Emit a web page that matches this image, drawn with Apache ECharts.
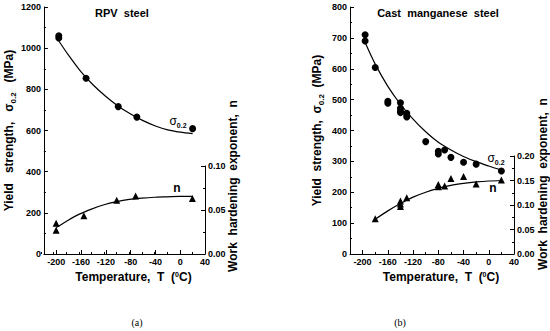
<!DOCTYPE html>
<html>
<head>
<meta charset="utf-8">
<script src="https://cdn.jsdelivr.net/npm/echarts@6/dist/echarts.min.js"></script>
<style>
    html, body { margin: 0; padding: 0; background: #fff; }
    #chart { width: 550px; height: 331px; }
</style>
</head>
<body>
<div id="chart"></div>
<script>
// temperature tick labels shared by both panels
var tempTicks = [-200, -160, -120, -80, -40, 0, 40];

// (a) RPV steel - measured points
var rpvT = [-196, -196, -152, -100, -70, 20];
var rpvSigma = [1060, 1049, 854, 716, 665, 609];
var rpvN = [0.035, 0.027, 0.0435, 0.061, 0.066, 0.063];
// (a) fitted curves
var rpvFitT = [-196, -180, -160, -140, -120, -100, -80, -60, -40, -20, 0, 20];
var rpvFitSigma = [1035, 965, 885, 820, 765, 718, 680, 648, 622, 603, 592, 585];
var rpvFitN = [0.030, 0.037, 0.045, 0.051, 0.056, 0.0595, 0.062, 0.0635, 0.0645, 0.065, 0.0655, 0.0655];

// (b) cast manganese steel - measured points
var mnSigmaT = [-196, -196, -180, -160, -160, -140, -140, -140, -140, -130, -130, -130, -100, -80, -80, -70, -60, -40, -20, 20];
var mnSigma = [710, 690, 604, 495, 488, 490, 472, 463, 458, 456, 450, 444, 364, 333, 324, 337, 313, 297, 291, 269];
var mnNT = [-180, -140, -140, -140, -130, -80, -80, -70, -60, -40, -20, 20];
var mnN = [0.072, 0.108, 0.102, 0.097, 0.115, 0.142, 0.137, 0.139, 0.154, 0.158, 0.143, 0.151];
// (b) fitted curves
var mnFitSigmaT = [-196, -180, -160, -140, -120, -100, -80, -60, -40, -20, 0, 20];
var mnFitSigma = [685, 615, 543, 485, 437, 396, 362, 337, 316, 299, 285, 272];
var mnFitNT = [-180, -160, -140, -120, -100, -80, -60, -40, -20, 0, 20];
var mnFitN = [0.071, 0.088, 0.103, 0.116, 0.126, 0.134, 0.140, 0.144, 0.147, 0.149, 0.150];

var FONT = '"Liberation Sans", Arial, sans-serif';
var labelStyle = {color: '#000', fontFamily: FONT, fontWeight: 'bold', fontSize: 9};
var lineStyle = {color: '#000', width: 1};

function pairs(xs, ys) {
    var out = [];
    for (var i = 0; i < xs.length; i++) {
        out.push([xs[i], ys[i]]);
    }
    return out;
}

function plain(v) { return String(v); }
function fixed2(v) { return v.toFixed(2); }

// main temperature axis (major ticks + labels)
function tempAxis(gridIndex) {
    return {
        type: 'value', gridIndex: gridIndex, min: -220, max: 40,
        axisLine: {onZero: false, lineStyle: lineStyle},
        axisTick: {inside: true, length: 4, lineStyle: lineStyle, customValues: tempTicks},
        axisLabel: Object.assign({}, labelStyle, {margin: 3, customValues: tempTicks, formatter: plain}),
        splitLine: {show: false},
        name: 'Temperature,  T  ({sup|0}C)',
        nameLocation: 'middle',
        nameGap: 15,
        nameTextStyle: {
            color: '#000', fontFamily: FONT, fontWeight: 'bold', fontSize: 12,
            padding: [0, 0, 0, 18],
            rich: {sup: {fontSize: 7, fontWeight: 'bold', fontFamily: FONT, verticalAlign: 'top', lineHeight: 7}}
        }
    };
}

// hidden temperature axis of the n-grid, draws the minor ticks every 20
function minorTempAxis(gridIndex) {
    return {
        type: 'value', gridIndex: gridIndex, min: -220, max: 40, interval: 20,
        axisLine: {show: false, onZero: false},
        axisTick: {inside: true, length: 2, lineStyle: lineStyle},
        axisLabel: {show: false},
        splitLine: {show: false}
    };
}

function valueAxis(gridIndex, pos, max, interval, fmt) {
    return {
        type: 'value', gridIndex: gridIndex, position: pos, min: 0, max: max, interval: interval,
        axisLine: {show: true, onZero: false, lineStyle: lineStyle},
        axisTick: {show: true, inside: true, length: 4, lineStyle: lineStyle},
        minorTick: {show: true, splitNumber: 2, length: 2, lineStyle: lineStyle},
        axisLabel: Object.assign({}, labelStyle, {margin: 3, formatter: fmt}),
        splitLine: {show: false}
    };
}

var yieldName = {
    nameLocation: 'middle',
    nameGap: 25,
    nameTextStyle: {
        color: '#000', fontFamily: FONT, fontWeight: 'bold', fontSize: 12, lineHeight: 16,
        rich: {sub: {fontSize: 8, fontWeight: 'bold', fontFamily: FONT, verticalAlign: 'bottom', lineHeight: 9}}
    }
};

var yA = valueAxis(0, 'left', 1200, 200, plain);
Object.assign(yA, yieldName, {name: 'Yield   strength,   \u03c3{sub|0.2}   (MPa)'});
var yB = valueAxis(2, 'left', 800, 100, plain);
Object.assign(yB, yieldName, {name: 'Yield  strength,  \u03c3{sub|0.2}  (MPa)'});

function scatter(x, y, symbol, data) {
    return {
        type: 'scatter', xAxisIndex: x, yAxisIndex: y, symbol: symbol, symbolSize: 7,
        itemStyle: {color: '#000', opacity: 1}, data: data, silent: true
    };
}

function fit(x, y, data) {
    return {
        type: 'line', xAxisIndex: x, yAxisIndex: y, data: data, smooth: 0.3,
        showSymbol: false, lineStyle: {color: '#000', width: 1.2}, silent: true
    };
}

function txt(x, y, text, size, extra) {
    extra = extra || {};
    return {
        type: 'text', x: x, y: y, rotation: extra.rot || 0, silent: true,
        style: {
            text: text, fill: '#000',
            font: (extra.weight || 'bold') + ' ' + size + 'px ' + (extra.family || FONT),
            textAlign: 'center', textVerticalAlign: 'middle', align: 'center', verticalAlign: 'middle',
            rich: extra.rich
        }
    };
}

var subRich = {
    s: {fontSize: 12, fontFamily: FONT, fill: '#000', lineHeight: 16},
    sub: {fontSize: 7, fontWeight: 'bold', fontFamily: FONT, fill: '#000', verticalAlign: 'bottom', lineHeight: 9}
};

var chart = echarts.init(document.getElementById('chart'), null, {renderer: 'svg'});
chart.setOption({
    animation: false,
    backgroundColor: '#fff',
    grid: [
        {left: 41, top: 7, width: 164, height: 247},
        {left: 41, top: 166, width: 164, height: 88},
        {left: 350, top: 7, width: 164, height: 247},
        {left: 350, top: 156, width: 164, height: 98}
    ],
    xAxis: [tempAxis(0), minorTempAxis(1), tempAxis(2), minorTempAxis(3)],
    yAxis: [
        yA,
        valueAxis(1, 'right', 0.1, 0.05, fixed2),
        yB,
        valueAxis(3, 'right', 0.2, 0.05, fixed2)
    ],
    series: [
        fit(0, 0, pairs(rpvFitT, rpvFitSigma)),
        scatter(0, 0, 'circle', pairs(rpvT, rpvSigma)),
        fit(1, 1, pairs(rpvFitT, rpvFitN)),
        scatter(1, 1, 'triangle', pairs(rpvT, rpvN)),
        fit(2, 2, pairs(mnFitSigmaT, mnFitSigma)),
        scatter(2, 2, 'circle', pairs(mnSigmaT, mnSigma)),
        fit(3, 3, pairs(mnFitNT, mnFitN)),
        scatter(3, 3, 'triangle', pairs(mnNT, mnN))
    ],
    graphic: [
        txt(122, 13, 'RPV  steel', 11),
        txt(438, 13, 'Cast  manganese  steel', 11),
        txt(233, 186, 'Work  hardening  exponent,  n', 12, {rot: Math.PI / 2}),
        txt(543, 184, 'Work  hardening  exponent,  n', 12, {rot: Math.PI / 2}),
        txt(178, 121, '{s|\u03c3}{sub|0.2}', 12, {weight: 'normal', rich: subRich}),
        txt(496, 158, '{s|\u03c3}{sub|0.2}', 12, {weight: 'normal', rich: subRich}),
        txt(177, 188, 'n', 12),
        txt(493, 188, 'n', 12),
        txt(137, 322, '(a)', 10, {weight: 'normal', family: '"Liberation Serif", serif'}),
        txt(400, 322, '(b)', 10, {weight: 'normal', family: '"Liberation Serif", serif'})
    ]
});
</script>
</body>
</html>
